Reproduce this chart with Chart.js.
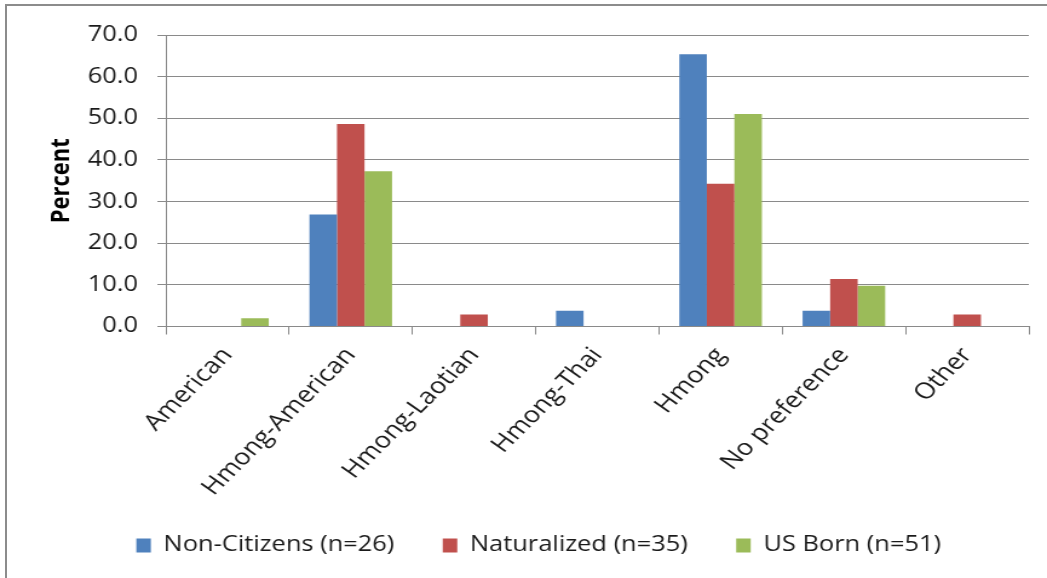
<!DOCTYPE html>
<html>
<head>
<meta charset="utf-8">
<title>Identity preference by citizenship status</title>
<script src="https://cdn.jsdelivr.net/npm/chart.js@4/dist/chart.umd.min.js"></script>
<style>
  html, body { margin: 0; padding: 0; background: #fff; overflow: hidden; }
  body { width: 1047px; height: 578px; position: relative; }
  #frame {
    position: absolute; left: 5px; top: 4px;
    width: 1100px; height: 700px;
    border: 2px solid #8c8c8c; box-sizing: border-box;
  }
  #stage {
    position: absolute; left: 0; top: 0;
    width: 865px; height: 578px;
    transform: scaleX(1.2104); transform-origin: 0 0;
  }
  canvas { display: block; }
</style>
</head>
<body>
<div id="frame"></div>
<div id="stage"><canvas id="chart" width="865" height="578"></canvas></div>
<script>
// Preferred identity label, percent of each citizenship group
const categories = ['American', 'Hmong-American', 'Hmong-Laotian', 'Hmong-Thai', 'Hmong', 'No preference', 'Other'];
const nonCitizens = [0, 26.9, 0, 3.8, 65.4, 3.8, 0];
const naturalized = [0, 48.6, 2.9, 0, 34.3, 11.4, 2.9];
const usBorn = [2.0, 37.3, 0, 0, 51.0, 9.8, 0];
const seriesNames = ['Non-Citizens (n=26)', 'Naturalized (n=35)', 'US Born (n=51)'];
const yTicks = [0, 10, 20, 30, 40, 50, 60, 70];

const FONT = '"Open Sans", "Liberation Sans", sans-serif';
const GRID = '#8a8a8a';
const TEXT = '#1a1a1a';

const ds = (label, data, color) => ({
  label, data,
  backgroundColor: color,
  borderWidth: 0,
  categoryPercentage: 0.67,
  barPercentage: 1.0
});

new Chart(document.getElementById('chart'), {
  type: 'bar',
  data: {
    labels: categories,
    datasets: [
      ds(seriesNames[0], nonCitizens, '#4F81BD'),
      ds(seriesNames[1], naturalized, '#C0504D'),
      ds(seriesNames[2], usBorn, '#9BBB59')
    ]
  },
  options: {
    responsive: false,
    animation: false,
    devicePixelRatio: 1,
    layout: { padding: { left: 40, right: 15, top: 35, bottom: 12 } },
    plugins: {
      tooltip: { enabled: false },
      legend: {
        position: 'bottom',
        maxHeight: 87.5,
        labels: {
          font: { family: FONT, size: 21 },
          color: TEXT,
          boxWidth: 12,
          boxHeight: 14,
          padding: 40
        }
      }
    },
    scales: {
      x: {
        afterFit: s => { s.height = 168.5; },
        grid: {
          offset: true,
          drawOnChartArea: false,
          drawTicks: true,
          tickLength: 8,
          color: GRID,
          lineWidth: 1
        },
        border: { display: true, color: GRID, width: 1 },
        ticks: {
          maxRotation: 50,
          minRotation: 50,
          autoSkip: false,
          padding: 8,
          color: TEXT,
          font: { family: FONT, size: 22.5 }
        }
      },
      y: {
        min: 0,
        max: 70,
        afterFit: s => { s.width = 97; },
        afterBuildTicks: s => { s.ticks = yTicks.map(v => ({ value: v })); },
        grid: { color: GRID, lineWidth: 1, tickLength: 7, drawTicks: true },
        border: { display: true, color: GRID, width: 1 },
        ticks: {
          padding: 16,
          color: TEXT,
          font: { family: FONT, size: 21 },
          callback: v => Number(v).toFixed(1)
        },
        title: {
          display: true,
          text: 'Percent',
          color: '#000',
          padding: { top: 0, bottom: 0 },
          font: { family: FONT, size: 22, weight: 'bold', lineHeight: 1 }
        }
      }
    }
  }
});
</script>
</body>
</html>
